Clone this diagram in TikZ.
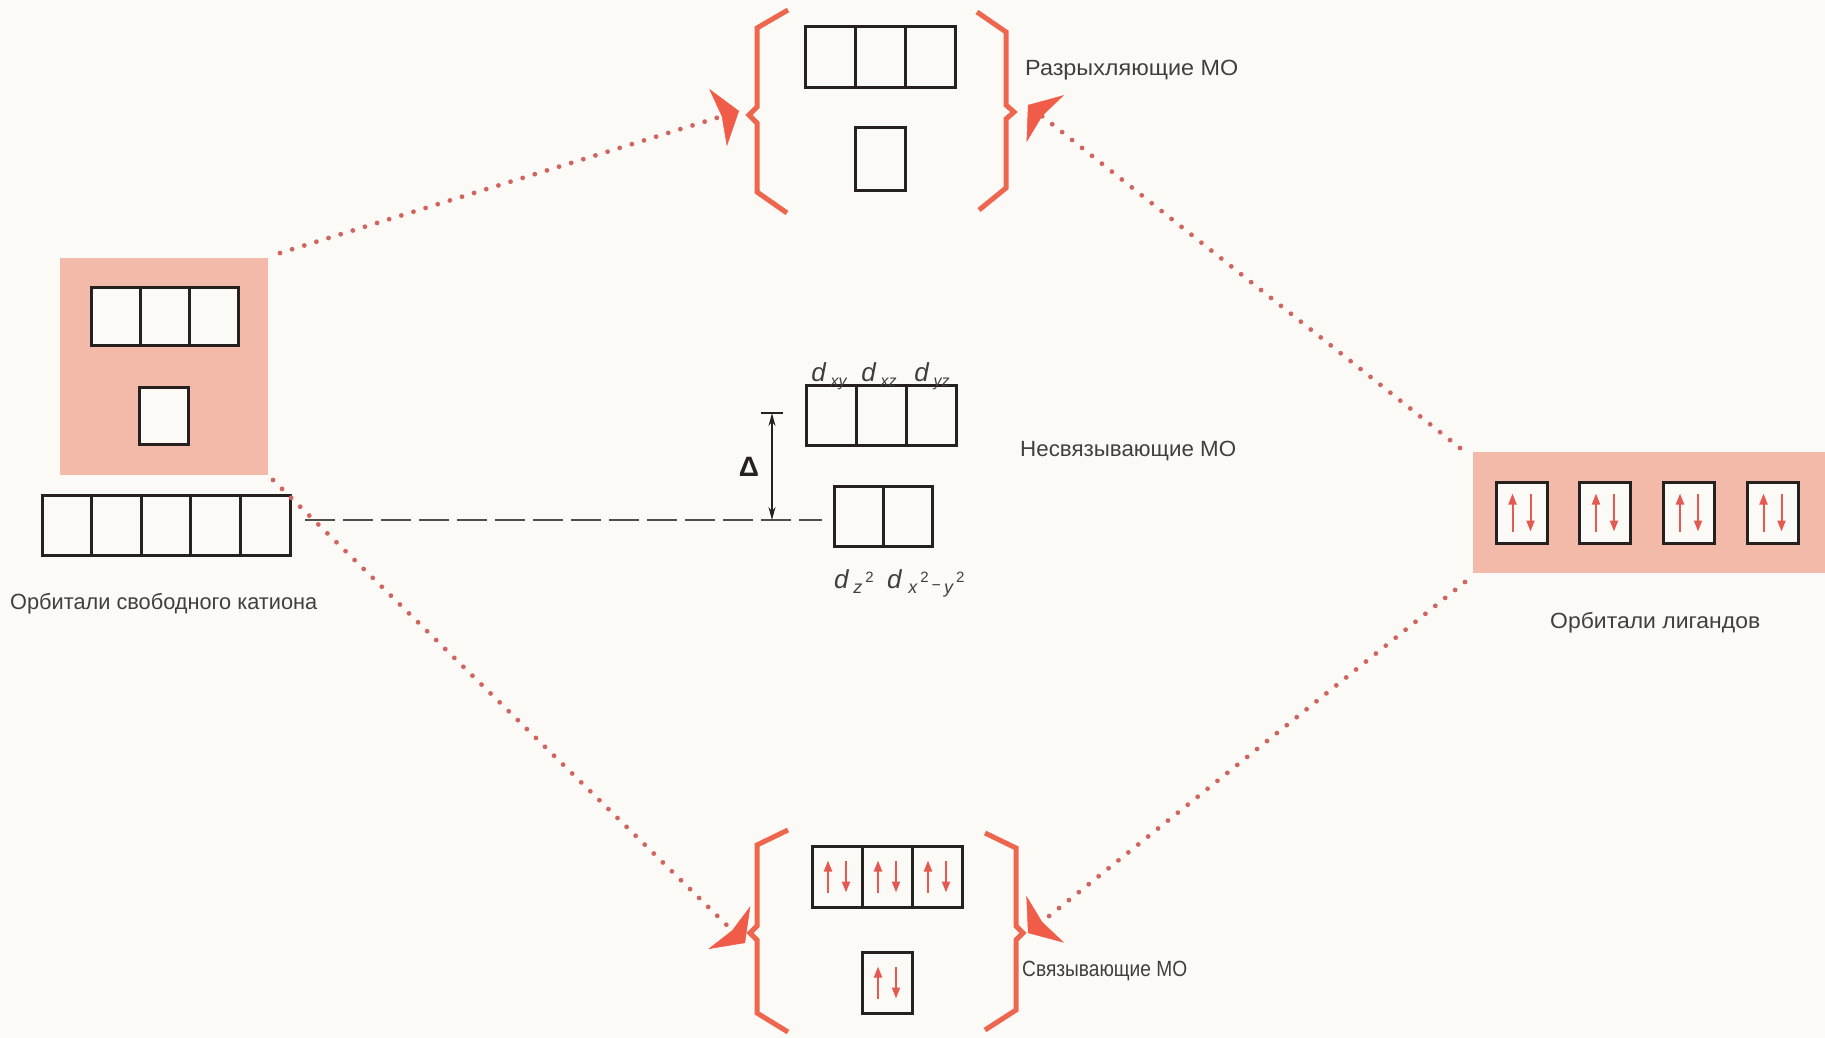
\documentclass[tikz,border=0pt]{standalone}
\usepackage{fontspec}
\setmainfont{Liberation Sans}
\usepackage{graphicx}
\usetikzlibrary{arrows.meta}

\definecolor{bgcol}{RGB}{252,250,246}
\definecolor{pinkfill}{RGB}{243,186,170}
\definecolor{bracecol}{RGB}{238,102,78}
\definecolor{arrowcol}{RGB}{240,92,72}
\definecolor{dotcol}{RGB}{210,100,96}
\definecolor{spincol}{RGB}{228,90,80}
\definecolor{boxcol}{RGB}{38,32,30}
\definecolor{txtcol}{RGB}{66,62,62}

% text helpers
\newcommand\lblfont{\fontsize{22}{26}\selectfont}
\newcommand\fitto[2]{\resizebox{#1}{\height}{#2}}
\newcommand\dsub[1]{\textit{d}\kern4pt\raisebox{-5pt}{\fontsize{16}{16}\selectfont\itshape #1}}
\newcommand\sbx[1]{\raisebox{-5pt}{\fontsize{18}{18}\selectfont\itshape #1}}
\newcommand\spx[1]{\raisebox{6pt}{\fontsize{15}{15}\selectfont #1}}

\tikzset{
  cell/.style={draw=boxcol, line width=3pt, fill=bgcol, inner sep=0pt,
    outer sep=0pt, minimum width=#1, minimum height=61pt},
  cell/.default=50pt,
  pinkbg/.style={fill=pinkfill, draw=none},
  brace/.style={draw=bracecol, line width=5pt, line join=miter, line cap=butt},
  dotline/.style={draw=dotcol, line width=4.8pt, line cap=round,
    dash pattern=on 0pt off 12.7pt,
    -{Stealth[length=22pt, width=60pt, inset=4pt, color=arrowcol, line width=0.5pt]}},
  spin/.style={draw=spincol, line width=2pt,
    -{Triangle[length=11pt, width=8pt, color=spincol]}},
  label/.style={text=txtcol, font=\lblfont, inner sep=0pt, anchor=base west},
  orb/.style={text=txtcol, font=\fontsize{26}{30}\selectfont, inner sep=0pt, anchor=base},
  dashline/.style={draw=boxcol!80, line width=2pt, dash pattern=on 30pt off 8pt},
  gap/.style={draw=boxcol, line width=1.6pt}
}

% electron pair (up and down spin) inside a cell
\newcommand\pair[2][17pt]{%
  \draw[spin] ([xshift=-9pt,yshift=-#1]#2.center) -- ([xshift=-9pt,yshift=#1]#2.center);
  \draw[spin] ([xshift=9pt,yshift=#1]#2.center) -- ([xshift=9pt,yshift=-#1]#2.center);}

\begin{document}
\begin{tikzpicture}[x=1pt, y=-1pt]
\fill[bgcol] (0,0) rectangle (1825,1038);
\useasboundingbox (0,0) rectangle (1825,1038);

% ---------- free cation orbitals ----------
\fill[pinkbg] (60,258) rectangle (268,475);
\node[cell=49pt, minimum height=58pt] (cp1) at (115.5,316) {};
\node[cell=49pt, minimum height=58pt] (cp2) at (164.5,316) {};
\node[cell=49pt, minimum height=58pt] (cp3) at (213.5,316) {};
\node[cell=49pt, minimum height=57pt] (cs) at (163.5,415.5) {};
\foreach \i/\x in {1/66.8,2/116.4,3/166,4/215.6,5/265.2}
  \node[cell=49.6pt, minimum height=60pt] (cd\i) at (\x,525) {};
\node[label] (catlab) at (10,609) {\fitto{307pt}{Орбитали свободного катиона}};

% ---------- ligand orbitals ----------
\fill[pinkbg] (1473,452) rectangle (1825,573);
\foreach \i/\x in {1/1521.5,2/1605,3/1689,4/1772.5}{
  \node[cell=51pt] (lg\i) at (\x,512.5) {};
  \pair[19pt]{lg\i}
}
\node[label] (liglab) at (1550,628) {\fitto{210pt}{Орбитали лигандов}};

% ---------- antibonding MO ----------
\node[cell=50.3pt] (ab1) at (830.2,57.5) {};
\node[cell=50.3pt] (ab2) at (880.5,57.5) {};
\node[cell=50.3pt] (ab3) at (930.8,57.5) {};
\node[cell=50pt, minimum height=62pt] (abs) at (880,159) {};
\draw[brace] (788,10) -- (757,28) -- (757,107) -- (749,115) -- (757,123) -- (757,192) -- (787,213);
\draw[brace] (977,12) -- (1006,32) -- (1006,105) -- (1014,112) -- (1006,119) -- (1006,188) -- (979,210);
\node[label] (ablab) at (1025,76) {\fitto{213pt}{Разрыхляющие МО}};

% ---------- nonbonding MO ----------
\node[cell=49.7pt, minimum height=60pt] (nb1) at (831.8,415) {};
\node[cell=49.7pt, minimum height=60pt] (nb2) at (881.5,415) {};
\node[cell=49.7pt, minimum height=60pt] (nb3) at (931.2,415) {};
\node[cell=49pt, minimum height=60pt] (ne1) at (858.5,516) {};
\node[cell=49pt, minimum height=60pt] (ne2) at (907.5,516) {};
\node[orb] (lxy) at (829,381) {\dsub{xy}};
\node[orb] (lxz) at (879,381) {\dsub{xz}};
\node[orb] (lyz) at (932,381) {\dsub{yz}};
\node[orb, anchor=base west] (lz2) at (834,588)
  {\textit{d}\kern4pt\sbx{z}\kern3pt\spx{2}};
\node[orb, anchor=base west] (lx2) at (887,588)
  {\textit{d}\kern6pt\sbx{x}\kern3pt\spx{2}\kern3pt\raisebox{-2pt}{\fontsize{16}{16}\selectfont −}\kern3pt\sbx{y}\kern3pt\spx{2}};
\node[label] (nblab) at (1020,456) {\fitto{216pt}{Несвязывающие МО}};

% splitting of the d level
\coordinate (dashL) at (305,520);
\coordinate (dashR) at (822,520);
\draw[dashline] (dashL) -- (dashR);
\coordinate (dtop) at (772,413);
\coordinate (dbot) at (772,520);
\draw[gap, {Stealth[length=13pt, width=7pt]}-{Stealth[length=13pt, width=7pt]}] (dtop) -- (dbot);
\draw[gap] ([xshift=-11pt]dtop) -- ([xshift=11pt]dtop);
\node[text=boxcol, font=\fontsize{28}{32}\selectfont\bfseries, inner sep=0pt] (delta) at (749,467) {Δ};

% ---------- bonding MO ----------
\node[cell=50pt] (bd1) at (837,876.5) {};
\node[cell=50pt] (bd2) at (887,876.5) {};
\node[cell=50pt] (bd3) at (937,876.5) {};
\node[cell=50pt] (bds) at (887,982.5) {};
\pair[16pt]{bd1}
\pair[16pt]{bd2}
\pair[16pt]{bd3}
\pair[16pt]{bds}
\draw[brace] (788,830) -- (757,845) -- (757,926) -- (750,933) -- (757,940) -- (757,1013) -- (788,1032);
\draw[brace] (985,833) -- (1016,848) -- (1016,926) -- (1023,933) -- (1016,940) -- (1016,1010) -- (985,1030);
\node[label] (bdlab) at (1022,976) {\fitto{165pt}{Связывающие МО}};

% ---------- correlation lines ----------
\coordinate (s1) at (280,253);
\coordinate (t1) at (739,111);
\coordinate (s2) at (273,480);
\coordinate (t2) at (745,943);
\coordinate (s3) at (1460,448);
\coordinate (t3) at (1028,105);
\coordinate (s4) at (1465,582);
\coordinate (t4) at (1028,933);
\draw[dotline] (s1) -- (t1);
\draw[dotline] (s2) -- (t2);
\draw[dotline] (s3) -- (t3);
\draw[dotline] (s4) -- (t4);
\end{tikzpicture}
\end{document}
